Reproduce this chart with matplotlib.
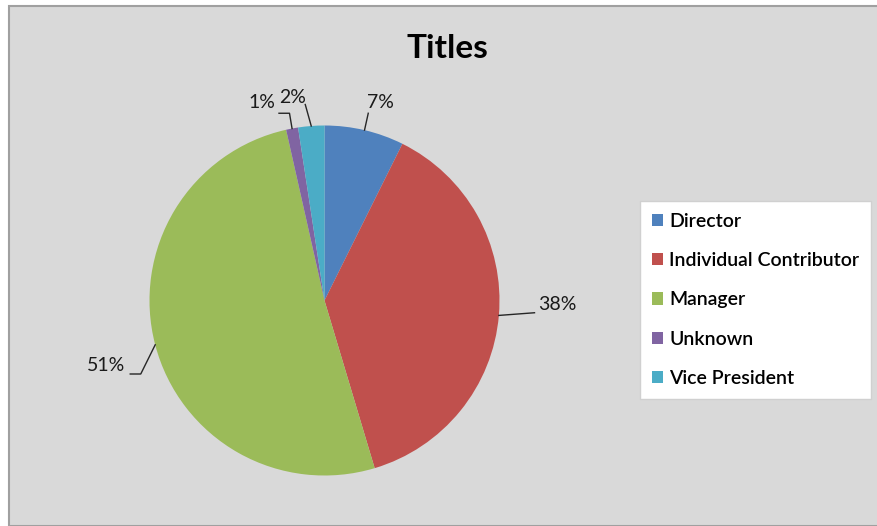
import numpy as np
import matplotlib
matplotlib.use('Agg')
import matplotlib.pyplot as plt
from matplotlib.patches import Rectangle

plt.rcParams['font.family'] = ['Lato', 'DejaVu Sans']

# 数据
categories = ['Director', 'Individual Contributor', 'Manager', 'Unknown', 'Vice President']
shares = [7.3, 37.8, 50.8, 1.1, 2.4]
colors = ['#4f81bd', '#c0504d', '#9bbb59', '#8064a2', '#4bacc6']

# 标签位置 (相对于饼图半径) 和折线
label_pos = [(0.32, 1.13), (1.33, -0.02), (-1.25, -0.37), (-0.36, 1.13), (-0.18, 1.16)]
elbow = [None, None, (-1.05, -0.42), (-0.2, 1.07), None]
line_end = [(0.25, 1.07), (1.20, -0.07), (-1.11, -0.42), (-0.26, 1.07), (-0.11, 1.12)]

W, H = 878, 526
fig = plt.figure(figsize=(W / 100, H / 100), dpi=100, facecolor='white')

# 灰色背景和边框
fig.patches.append(Rectangle((9 / W, 0), 1.0, (H - 6) / H, transform=fig.transFigure,
                             facecolor='#d9d9d9', edgecolor='#a0a0a0', linewidth=1.5, zorder=-5))

cx, cy, r = 324.5, 300.5, 175
ax = fig.add_axes([(cx - r) / W, (H - cy - r) / H, 2 * r / W, 2 * r / H])
ax.set_zorder(2)

wedges, _ = ax.pie(shares, colors=colors, startangle=90, counterclock=False, radius=1,
                   wedgeprops=dict(linewidth=0))
ax.set_xlim(-1, 1)
ax.set_ylim(-1, 1)
ax.set_aspect('equal')
ax.axis('off')

total = sum(shares)
for i, w in enumerate(wedges):
    mid = np.deg2rad((w.theta1 + w.theta2) / 2)
    edge = (np.cos(mid), np.sin(mid))
    pts = [edge]
    if elbow[i] is not None:
        pts.append(elbow[i])
    pts.append(line_end[i])
    xs, ys = zip(*pts)
    ax.plot(xs, ys, color='#262626', linewidth=1, clip_on=False)
    ax.text(label_pos[i][0], label_pos[i][1], f"{round(shares[i] / total * 100)}%",
            ha='center', va='center', fontsize=14, color='#1a1a1a', clip_on=False)

fig.text(447 / W, 1 - 48 / H, 'Titles', ha='center', va='center', fontsize=24,
         fontweight='bold', color='black')

leg = fig.legend(wedges, categories, loc='upper left',
                 bbox_to_anchor=(640 / W, 1 - 201 / H), frameon=True, fancybox=False,
                 framealpha=1, fontsize=14, handlelength=0.6, handleheight=0.6,
                 handletextpad=0.3, labelspacing=1.15, borderpad=0.6, borderaxespad=0)
leg.set_zorder(3)
leg.get_frame().set_facecolor('white')
leg.get_frame().set_edgecolor('#d0d0d0')
for t in leg.get_texts():
    t.set_fontweight('semibold')

fig.savefig('out.png', dpi=100, facecolor='white')
